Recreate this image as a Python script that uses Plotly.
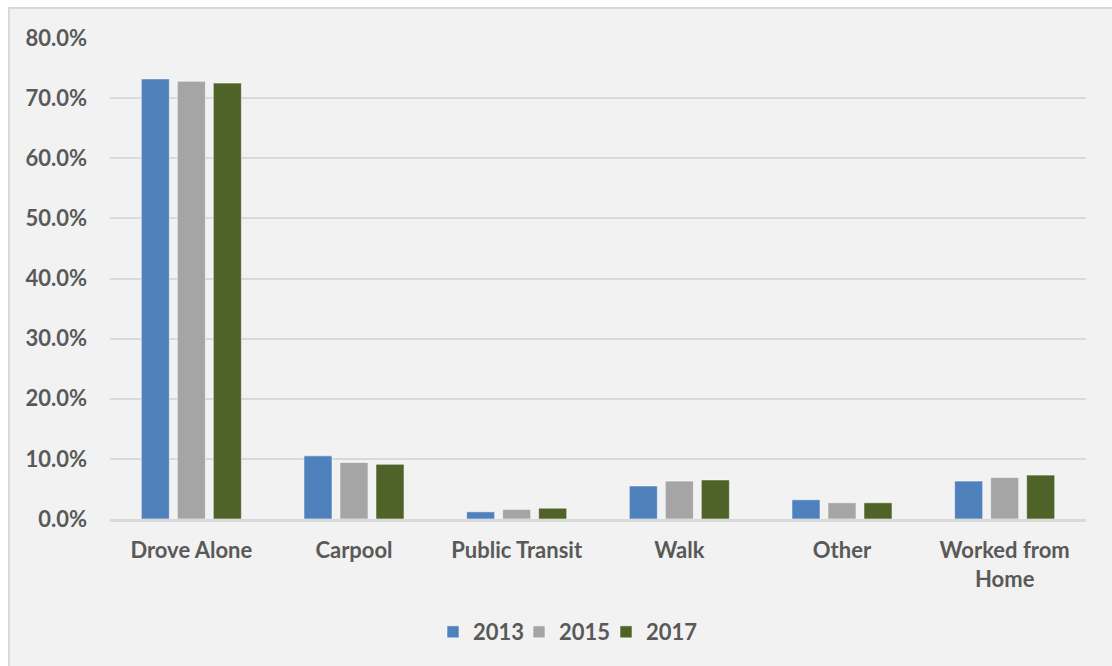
import plotly.graph_objects as go

modes = ["Drove Alone", "Carpool", "Public Transit", "Walk", "Other", "Worked from<br>Home"]
share_2013 = [73.2, 10.5, 1.2, 5.5, 3.2, 6.3]
share_2015 = [72.8, 9.4, 1.6, 6.3, 2.7, 6.9]
share_2017 = [72.5, 9.1, 1.8, 6.5, 2.7, 7.3]
years = ["2013", "2015", "2017"]
colors = ["#4f81bd", "#a5a5a5", "#4f6228"]
y_ticks = [0, 10, 20, 30, 40, 50, 60, 70, 80]

FONT = "Lato"
TEXT = "#595959"
FS = 22

L, R, T, B = 110, 26, 38, 147
W, H = 1112, 666
pw, ph = W - L - R, H - T - B

# one legend box per year so the entries sit at fixed spots along the bottom
legend_ids = ["legend", "legend2", "legend3"]
legend_left_px = [433, 519, 606]

fig = go.Figure()
for name, vals, col, lid in zip(years, [share_2013, share_2015, share_2017], colors, legend_ids):
    fig.add_trace(go.Bar(
        x=modes, y=vals, name=name, legend=lid,
        marker=dict(color=col, line=dict(color="rgba(255,255,255,0.55)", width=1)),
    ))

# outer chart frame (gray panel with thin border), in paper units
fig.add_shape(
    type="rect", xref="paper", yref="paper", layer="below",
    x0=(9 - L) / pw, x1=(W + 2 - L) / pw,
    y0=((H - B) - (H + 2)) / ph, y1=((H - B) - 8) / ph,
    fillcolor="#f2f2f2", line=dict(color="#d9d9d9", width=2),
)

legend_style = dict(
    orientation="h", xanchor="left", y=-0.235, yanchor="middle",
    font=dict(family=FONT, size=FS, color=TEXT, weight="bold"),
    bgcolor="rgba(0,0,0,0)", itemwidth=30,
)
legends = {lid: dict(legend_style, x=(px - L) / pw) for lid, px in zip(legend_ids, legend_left_px)}

fig.update_layout(
    width=W, height=H,
    margin=dict(l=L, r=R, t=T, b=B),
    paper_bgcolor="white",
    plot_bgcolor="white",
    barmode="group",
    bargap=0.336,
    bargroupgap=0.22,
    font=dict(family=FONT, size=FS, color=TEXT),
    showlegend=True,
    xaxis=dict(
        showgrid=False, showline=True, linecolor="#d9d9d9", linewidth=3,
        ticks="", ticklabelstandoff=10,
        tickfont=dict(family=FONT, size=FS, color=TEXT, weight="bold"),
    ),
    yaxis=dict(
        range=[0, 80], tickvals=y_ticks,
        ticktext=[f"{v:.1f}%" for v in y_ticks],
        showgrid=True, gridcolor="#d9d9d9", gridwidth=1.5,
        zeroline=False, showline=False, ticks="", ticklabelstandoff=22,
        tickfont=dict(family=FONT, size=FS, color=TEXT, weight="bold"),
    ),
    **legends,
)

fig.write_html("out.html")
